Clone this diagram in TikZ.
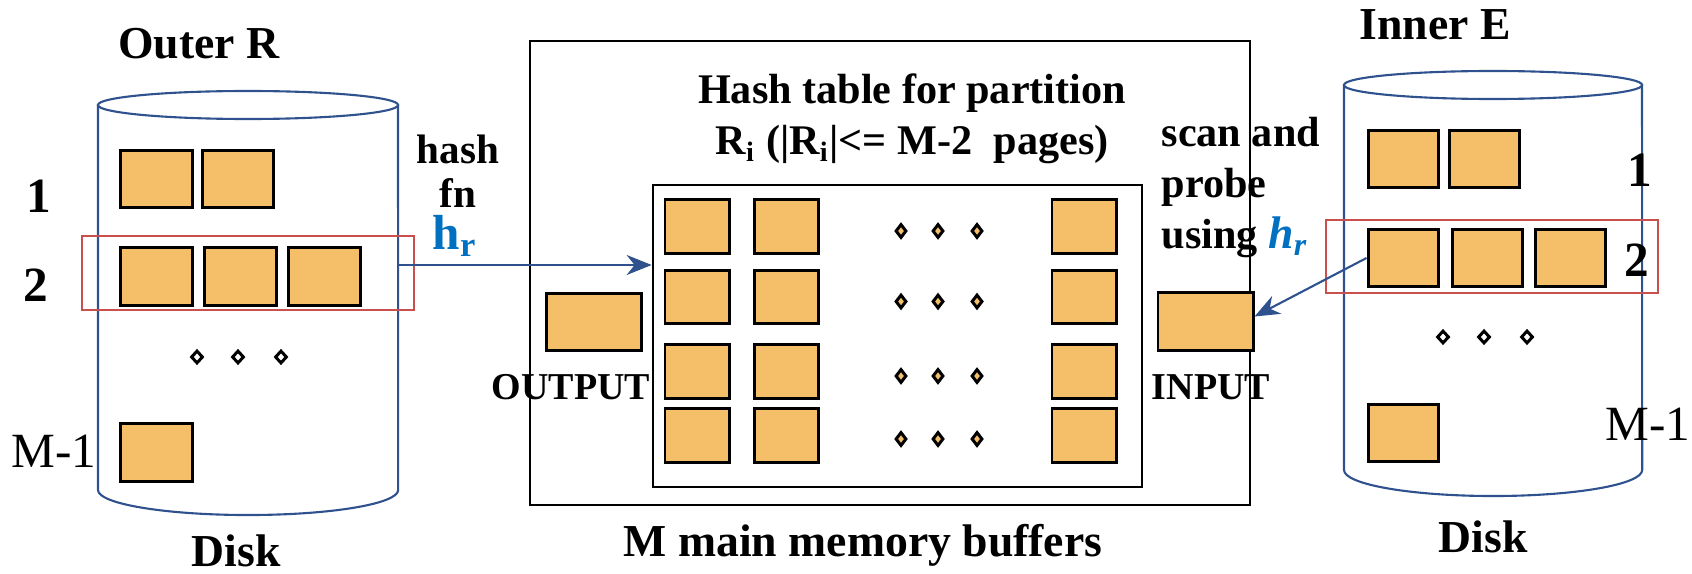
\documentclass[tikz,border=0pt]{standalone}
\usepackage{fontspec}
\setmainfont{Liberation Serif}
\usetikzlibrary{arrows.meta,shapes.geometric}
\definecolor{pagefill}{HTML}{F5BF69}
\definecolor{diskblue}{HTML}{2F528F}
\definecolor{partred}{HTML}{C9504D}
\definecolor{hrblue}{HTML}{0070C0}
\tikzset{
  hjpage/.style={draw=black, line width=0.85pt, fill=pagefill, inner sep=0pt,
    minimum width=0.71cm, minimum height=0.57cm},
  hjbuf/.style={hjpage, minimum width=0.64cm, minimum height=0.53cm},
  hjio/.style={hjpage, minimum width=0.95cm, minimum height=0.57cm},
  hjdot/.style={diamond, draw=black, line width=0.85pt, fill=white, inner sep=0pt,
    minimum width=0.12cm, minimum height=0.13cm},
  hjbufdot/.style={hjdot, fill=pagefill, minimum width=0.11cm, minimum height=0.14cm},
  hjpart/.style={draw=partred, line width=0.6pt, inner sep=0pt},
  hjmem/.style={draw=black, line width=0.7pt, inner sep=0pt},
  hjdisk/.style={draw=diskblue, line width=0.6pt},
  hjarrow/.style={-{Stealth[length=2.5mm, width=2mm, inset=0.8mm]}, draw=diskblue, line width=0.6pt},
  hjhead/.style={font=\bfseries\fontsize{13}{15}\selectfont, inner sep=0pt},
  hjtext/.style={font=\bfseries\fontsize{12}{14.5}\selectfont, align=center, inner sep=0pt},
  hjnum/.style={font=\bfseries\fontsize{14}{16}\selectfont, inner sep=0pt},
  hjlbl/.style={font=\bfseries\fontsize{10.8}{13}\selectfont, inner sep=0pt}
}
\begin{document}
\begin{tikzpicture}[x=0.01cm, y=-0.01cm]
  \useasboundingbox (0,0) rectangle (1692,573);
  % outer relation R on disk
  \draw[hjdisk] (98,105) -- (98,490) arc[start angle=180, end angle=360, x radius=1.5cm, y radius=0.25cm] -- (398,105);
  \draw[hjdisk] (248,105) ellipse [x radius=1.5cm, y radius=0.14cm];
  \node[hjhead] (outer) at (199,44) {Outer R};
  \node[hjhead] (diskr) at (236,551) {Disk};
  \node[hjnum] (rlab1) at (39,196) {1};
  \node[hjnum] (rlab2) at (36,285) {2};
  \node[font=\fontsize{14}{16}\selectfont, inner sep=0pt] (rlabm) at (54,451) {M-1};
  \node[hjpage] (r11) at (156.5,179) {};
  \node[hjpage, minimum width=0.70cm] (r12) at (238,179) {};
  \node[hjpage] (r21) at (156.5,276.5) {};
  \node[hjpage] (r22) at (240.5,276.5) {};
  \node[hjpage] (r23) at (324.5,276.5) {};
  \node[hjpage] (rm) at (156.5,452.5) {};
  \node[hjdot] (rd1) at (197,357) {};
  \node[hjdot] (rd2) at (238,357) {};
  \node[hjdot] (rd3) at (281,357) {};
  \node[hjpart, minimum width=3.32cm, minimum height=0.74cm] (rpart) at (248,273) {};
  \coordinate (rout) at (398,265);
  \node[hjtext, font=\bfseries\fontsize{11.7}{12.4}\selectfont] (hashfn) at (458,171) {hash\\fn};
  \node[hjtext, text=hrblue, font=\bfseries\fontsize{14}{14}\selectfont] (hashhr) at (455,236) {h\textsubscript{r}};
  % main memory
  \node[hjmem, minimum width=7.2cm, minimum height=4.64cm] (mem) at (890,273) {};
  \node[hjmem, minimum width=4.89cm, minimum height=3.02cm] (hashtbl) at (897.5,336) {};
  \node[hjtext] (httitle) at (912,119)
    {Hash table for partition\\R\textsubscript{i} (|R\textsubscript{i}|<= M-2\ \ pages)};
  \node[hjbuf] (b11) at (697,226.5) {};
  \node[hjbuf] (b12) at (786.5,226.5) {};
  \node[hjbuf] (b14) at (1084,226.5) {};
  \node[hjbuf] (b21) at (697,297) {};
  \node[hjbuf] (b22) at (786.5,297) {};
  \node[hjbuf] (b24) at (1084,297) {};
  \node[hjbuf] (b31) at (697,371.5) {};
  \node[hjbuf] (b32) at (786.5,371.5) {};
  \node[hjbuf] (b34) at (1084,371.5) {};
  \node[hjbuf] (b41) at (697,435.5) {};
  \node[hjbuf] (b42) at (786.5,435.5) {};
  \node[hjbuf] (b44) at (1084,435.5) {};
  \node[hjbufdot] (bd11) at (901,231) {};
  \node[hjbufdot] (bd12) at (938,231) {};
  \node[hjbufdot] (bd13) at (977,231) {};
  \node[hjbufdot] (bd21) at (901,301.5) {};
  \node[hjbufdot] (bd22) at (938,301.5) {};
  \node[hjbufdot] (bd23) at (977,301.5) {};
  \node[hjbufdot] (bd31) at (901,376) {};
  \node[hjbufdot] (bd32) at (938,376) {};
  \node[hjbufdot] (bd33) at (977,376) {};
  \node[hjbufdot] (bd41) at (901,439) {};
  \node[hjbufdot] (bd42) at (938,439) {};
  \node[hjbufdot] (bd43) at (977,439) {};
  \node[hjio, minimum width=0.94cm] (outbuf) at (594,322) {};
  \node[hjlbl] (outlbl) at (571,387) {OUTPUT};
  \node[hjio] (inbuf) at (1205.5,321.5) {};
  \node[hjlbl] (inlbl) at (1211,387) {INPUT};
  \node[hjhead] (memlbl) at (863,545) {M main memory buffers};
  \node[hjtext, align=left, anchor=west] (probe) at (1161,188)
    {scan and\\probe\\using {\color{hrblue}\itshape\fontsize{13}{13}\selectfont h\textsubscript{r}}};
  % inner relation E on disk
  \draw[hjdisk] (1344,85) -- (1344,470) arc[start angle=180, end angle=360, x radius=1.49cm, y radius=0.26cm] -- (1642,85);
  \draw[hjdisk] (1493,85) ellipse [x radius=1.49cm, y radius=0.14cm];
  \node[hjhead] (inner) at (1435,25) {Inner E};
  \node[hjhead] (diske) at (1483,537) {Disk};
  \node[hjnum] (elab1) at (1640,170) {1};
  \node[hjnum] (elab2) at (1637,260) {2};
  \node[font=\fontsize{14}{16}\selectfont, inner sep=0pt] (elabm) at (1648,424) {M-1};
  \node[hjpage, minimum width=0.70cm, minimum height=0.56cm] (e11) at (1403,159) {};
  \node[hjpage, minimum width=0.70cm, minimum height=0.56cm] (e12) at (1484,159) {};
  \node[hjpage, minimum width=0.70cm, minimum height=0.56cm] (e21) at (1403,258) {};
  \node[hjpage, minimum width=0.70cm, minimum height=0.56cm] (e22) at (1487,258) {};
  \node[hjpage, minimum width=0.70cm, minimum height=0.56cm] (e23) at (1570.5,258) {};
  \node[hjpage, minimum width=0.70cm, minimum height=0.56cm] (em) at (1403,433) {};
  \node[hjdot] (ed1) at (1443,337) {};
  \node[hjdot] (ed2) at (1484,337) {};
  \node[hjdot] (ed3) at (1527,337) {};
  \node[hjpart, minimum width=3.32cm, minimum height=0.73cm] (epart) at (1492,256.5) {};
  % connectors
  \draw[hjarrow] (rout) -- (rout -| hashtbl.west);
  \draw[hjarrow] (e21.west) -- ([yshift=0.05cm]inbuf.east);
\end{tikzpicture}
\end{document}
